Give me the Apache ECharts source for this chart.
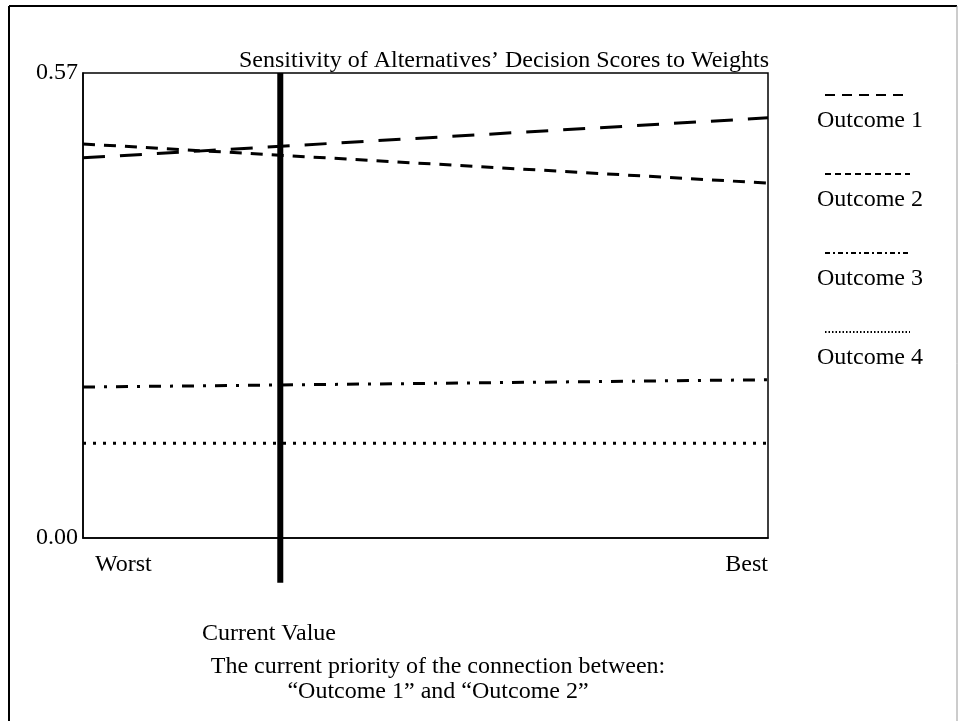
<!DOCTYPE html>
<html>
<head>
<meta charset="utf-8">
<script src="https://cdn.jsdelivr.net/npm/echarts@6/dist/echarts.min.js"></script>
<style>
  html, body { margin: 0; padding: 0; background: #fff; }
  #chart { width: 960px; height: 721px; }
</style>
</head>
<body>
<div id="chart"></div>
<script>
// values (x: 0 = Worst, 1 = Best)
const outcomeNames = ['Outcome 1', 'Outcome 2', 'Outcome 3', 'Outcome 4']
const weightX = [0, 1]
const outcome1 = [0.466, 0.515]
const outcome2 = [0.483, 0.435]
const outcome3 = [0.185, 0.194]
const outcome4 = [0.116, 0.116]
const currentValue = 0.288
const currentSpan = [-0.055, 0.57]
const xLabels = ['Worst', 'Best']
const yTicks = [0, 0.57]

const font = 'Liberation Serif, Times New Roman, serif'
const chartDash = [[22, 15], [12, 9], [12, 9, 3, 9], [3, 7]]
const legendDash = [[10, 7], [6, 4], [5, 3, 2, 3], [1.5, 2]]

function pairs(xs, ys) {
  return xs.map((x, i) => [x, ys[i]])
}

const chart = echarts.init(document.getElementById('chart'))

const seriesData = [outcome1, outcome2, outcome3, outcome4]
const series = seriesData.map((ys, i) => ({
  name: outcomeNames[i],
  type: 'line',
  symbol: 'none',
  silent: true,
  data: pairs(weightX, ys),
  lineStyle: { color: '#000', width: 3, type: chartDash[i] }
}))
series.push({
  name: 'Current Value',
  type: 'line',
  symbol: 'none',
  clip: false,
  silent: true,
  data: [[currentValue, currentSpan[0]], [currentValue, currentSpan[1]]],
  lineStyle: { color: '#000', width: 6, type: 'solid' }
})

// legend drawn as sample line above its label
const legendGraphics = []
outcomeNames.forEach((name, i) => {
  const y0 = 95 + i * 79
  legendGraphics.push({
    type: 'line',
    shape: { x1: 825, y1: y0, x2: 910, y2: y0 },
    style: { stroke: '#000', lineWidth: 2, lineDash: legendDash[i] }
  })
  legendGraphics.push({
    type: 'text',
    left: 817,
    top: y0 + 14,
    style: { text: name, font: '24px ' + font, fill: '#000' }
  })
})

chart.setOption({
  animation: false,
  backgroundColor: '#fff',
  title: {
    text: "Sensitivity of Alternatives\u2019 Decision Scores to Weights",
    left: 234,
    top: 44,
    textStyle: { fontFamily: font, fontSize: 24, fontWeight: 'normal', color: '#000' }
  },
  grid: {
    left: 83, top: 73, right: 192, bottom: 183,
    show: true, borderColor: '#000', borderWidth: 1.5
  },
  xAxis: {
    type: 'value',
    min: 0,
    max: 1,
    interval: 1,
    splitLine: { show: false },
    axisTick: { show: false },
    axisLine: { show: true, lineStyle: { color: '#000', width: 1.5 } },
    axisLabel: {
      margin: 15,
      color: '#000',
      fontFamily: font,
      fontSize: 24,
      alignMinLabel: 'left',
      alignMaxLabel: 'right',
      formatter: v => (v === 0 ? '  ' + xLabels[0] : xLabels[1])
    }
  },
  yAxis: {
    type: 'value',
    min: yTicks[0],
    max: yTicks[1],
    interval: yTicks[1] - yTicks[0],
    splitLine: { show: false },
    axisTick: { show: false },
    axisLine: { show: true, lineStyle: { color: '#000', width: 1.5 } },
    axisLabel: {
      margin: 5,
      color: '#000',
      fontFamily: font,
      fontSize: 24,
      formatter: v => v.toFixed(2)
    }
  },
  series: series,
  graphic: [
    // outer frame
    { type: 'line', shape: { x1: 9, y1: 6, x2: 9, y2: 721 }, style: { stroke: '#000', lineWidth: 2 } },
    { type: 'line', shape: { x1: 9, y1: 6, x2: 957, y2: 6 }, style: { stroke: '#000', lineWidth: 2 } },
    { type: 'line', shape: { x1: 957, y1: 6, x2: 957, y2: 721 }, style: { stroke: '#999', lineWidth: 1 } },
    {
      type: 'text', left: 202, top: 622,
      style: { text: 'Current Value', font: '24px ' + font, fill: '#000' }
    },
    {
      type: 'text',
      style: {
        x: 438, y: 655,
        text: 'The current priority of the connection between:',
        font: '24px ' + font, fill: '#000', align: 'center'
      }
    },
    {
      type: 'text',
      style: {
        x: 438, y: 680,
        text: '\u201cOutcome 1\u201d and \u201cOutcome 2\u201d',
        font: '24px ' + font, fill: '#000', align: 'center'
      }
    }
  ].concat(legendGraphics)
})
</script>
</body>
</html>
